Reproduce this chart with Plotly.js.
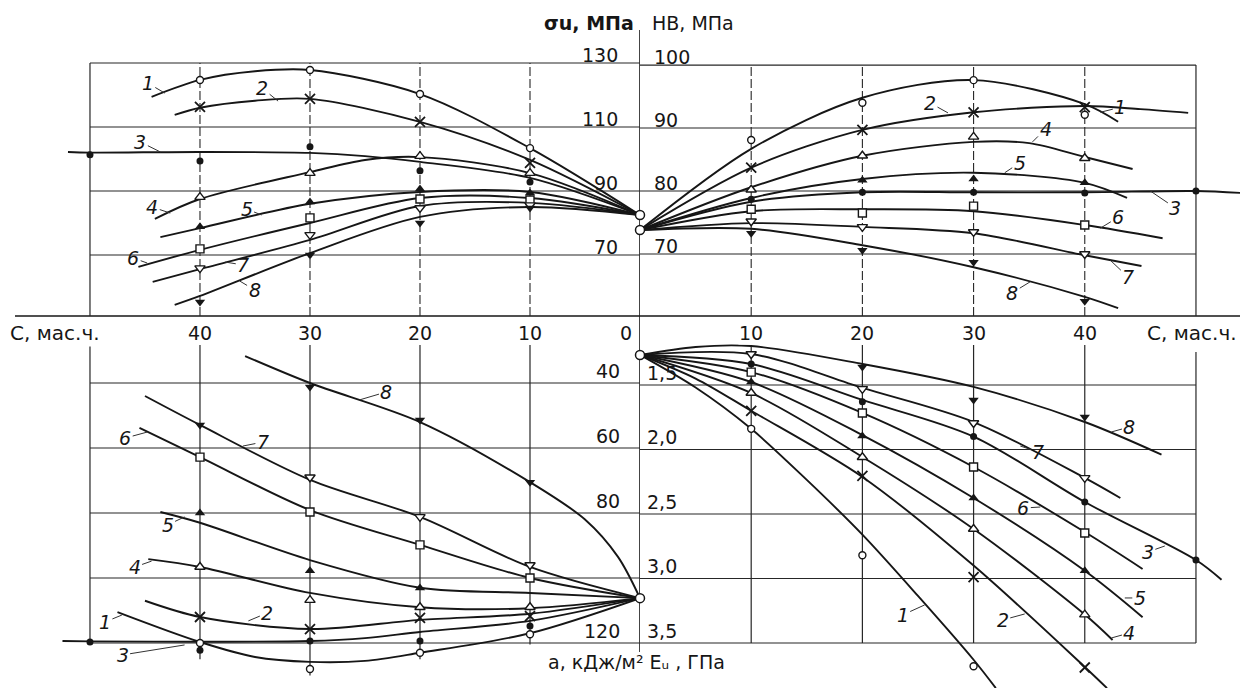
<!DOCTYPE html>
<html><head><meta charset="utf-8">
<script src="https://cdn.plot.ly/plotly-3.0.1.min.js"></script>
<style>html,body{margin:0;padding:0;background:#fff;}#chart{width:1240px;height:688px;}</style>
</head><body><div id="chart"></div>
<script>
// ---------- tick values / labels ----------
const cTicks = [10, 20, 30, 40];
const sigmaTicks = [130, 110, 90, 70];
const hbTicks = [100, 90, 80, 70];
const aGrid = [40, 60, 80, 100, 120];
const aTickLabels = [40, 60, 80, 120];
const eTicks = [1.5, 2.0, 2.5, 3.0, 3.5];
const eTickText = ['1,5', '2,0', '2,5', '3,0', '3,5'];
const curveNames = ['1', '2', '3', '4', '5', '6', '7', '8'];
const markC = [10, 20, 30, 40, 50];

// ---------- σu (top-left) : curves [C, σu] ----------
const sigmaCurve1 = [[44.4,119.4],[40,124.7],[35,127.4],[30,127.8],[20,120.3],[10,103.4],[0,82.5]];
const sigmaCurve2 = [[42.3,113.8],[40,116.0],[35,118.2],[30,118.8],[20,111.6],[10,99.7],[0,82.5]];
const sigmaCurve3 = [[52,102.2],[50,102.0],[40,102.2],[30,101.9],[25,100.9],[20,99.1],[10,94.1],[0,82.5]];
const sigmaCurve4 = [[44.1,81.3],[40,87.5],[30,95.9],[25,99.7],[20,100.6],[10,95.6],[0,82.5]];
const sigmaCurve5 = [[43.6,75.6],[40,78.4],[30,86.0],[20,89.7],[10,89.7],[0,82.5]];
const sigmaCurve6 = [[45.6,66.3],[40,71.6],[30,80.0],[20,87.8],[10,87.8],[0,82.5]];
const sigmaCurve7 = [[44.3,61.6],[40,65.6],[30,74.7],[20,85.3],[10,86.3],[0,82.5]];
const sigmaCurve8 = [[42.3,54.4],[40,57.2],[30,70.6],[20,81.9],[10,85.0],[0,82.5]];
// markers at markC
const sigmaMarks1 = [103.4, 120.3, 127.8, 124.7, null];
const sigmaMarks2 = [98.8, 111.6, 118.8, 116.3, null];
const sigmaMarks3 = [92.8, 96.3, 103.8, 99.4, 101.3];
const sigmaMarks4 = [95.6, 100.9, 95.6, 88.1, null];
const sigmaMarks5 = [89.4, 90.6, 86.6, 78.8, null];
const sigmaMarks6 = [87.2, 87.5, 81.6, 71.9, null];
const sigmaMarks7 = [85.6, 84.7, 76.3, 65.9, null];
const sigmaMarks8 = [84.7, 80.0, 70.0, 55.3, null];
const sigmaZero = 82.5;

// ---------- HB (top-right) ----------
const hbCurve1 = [[0,73.8],[10,86.7],[20,94.8],[30,97.6],[40,93.8],[43,91.0]];
const hbCurve2 = [[0,73.8],[10,83.7],[20,89.7],[30,92.5],[40,93.5],[45,93.0],[49.3,92.4]];
const hbCurve3 = [[0,73.8],[10,78.3],[20,79.8],[30,79.8],[40,79.8],[50,80.0],[54,79.7]];
const hbCurve4 = [[0,73.8],[10,80.6],[20,85.6],[30,87.8],[35,87.6],[40,85.4],[44.3,83.5]];
const hbCurve5 = [[0,73.8],[10,78.9],[20,81.9],[30,82.9],[40,81.3],[43.8,78.9]];
const hbCurve6 = [[0,73.8],[10,76.8],[20,77.1],[30,76.8],[40,74.6],[47,72.5]];
const hbCurve7 = [[0,73.8],[10,74.9],[20,74.3],[30,73.3],[40,69.8],[45.1,68.1]];
const hbCurve8 = [[0,73.8],[10,74.0],[20,71.4],[30,67.9],[40,63.2],[43,61.4]];
const hbMarks1 = [88.1, 94.0, 97.6, 92.1, null];
const hbMarks2 = [83.7, 89.7, 92.5, 93.3, null];
const hbMarks3 = [78.7, 79.8, 79.8, 79.7, 80.0];
const hbMarks4 = [80.2, 85.6, 88.6, 85.2, null];
const hbMarks5 = [null, 81.7, 81.9, 81.3, null];
const hbMarks6 = [77.1, 76.5, 77.6, 74.6, null];
const hbMarks7 = [75.2, 74.3, 73.5, 70.0, null];
const hbMarks8 = [73.3, 70.6, 68.7, 62.5, null];
const hbZero = 73.8;

// ---------- a, kJ/m2 (bottom-left) ----------
const aCurve1 = [[47.5,110.5],[40,119.7],[35,124.3],[30,125.8],[25,125.5],[20,123.0],[10,117.0],[0,106.2]];
const aCurve2 = [[45,107.0],[40,112.0],[30,115.7],[20,112.9],[10,111.0],[0,106.2]];
const aCurve3 = [[52.5,119.4],[50,119.5],[40,119.6],[30,119.4],[25,118.5],[20,116.6],[10,113.2],[0,106.2]];
const aCurve4 = [[44.7,94.2],[40,96.6],[30,104.6],[20,109.0],[10,109.3],[0,106.2]];
const aCurve5 = [[43.6,79.7],[40,83.0],[30,94.5],[20,103.0],[10,104.6],[0,106.2]];
const aCurve6 = [[45.5,53.8],[40,62.8],[30,79.1],[20,89.8],[10,100.0],[0,106.2]];
const aCurve7 = [[45,44.0],[40,52.9],[30,69.8],[20,81.2],[10,96.6],[0,106.2]];
const aCurve8 = [[35.9,31.7],[30,40.0],[20,52.0],[10,70.5],[5,82.0],[2,93.5],[0,106.2]];
const aMarks1 = [117.3, 123.0, 128.0, 120.0, null];
const aMarks2 = [111.7, 112.3, 115.7, 112.0, null];
const aMarks3 = [114.8, 119.4, 119.4, 122.2, 119.7];
const aMarks4 = [109.0, 109.0, 106.8, 96.6, null];
const aMarks5 = [null, 103.1, 97.8, 80.0, null];
const aMarks6 = [100.0, 89.8, 79.7, 62.8, null];
const aMarks7 = [96.0, 81.2, 69.0, null, null];
const aMarks8 = [70.5, 51.4, 41.2, 52.9, null];
const aZero = 106.2;

// ---------- Eu, GPa (bottom-right) ----------
const eCurve1 = [[0,1.267],[5,1.52],[10,1.84],[15,2.236],[20,2.66],[25,3.135],[30,3.63],[32,3.85]];
const eCurve2 = [[0,1.267],[5,1.45],[10,1.70],[20,2.213],[30,2.90],[40,3.686],[42,3.85]];
const eCurve3 = [[0,1.267],[10,1.337],[20,1.616],[30,1.90],[40,2.407],[50,2.857],[52.3,3.01]];
const eCurve4 = [[0,1.267],[10,1.562],[20,2.058],[30,2.616],[40,3.28],[42.5,3.477]];
const eCurve5 = [[0,1.267],[10,1.477],[20,1.888],[30,2.376],[40,2.94],[45.2,3.30]];
const eCurve6 = [[0,1.267],[10,1.40],[20,1.717],[30,2.136],[40,2.64],[45.2,2.926]];
const eCurve7 = [[0,1.267],[10,1.26],[20,1.523],[30,1.787],[40,2.22],[43.2,2.376]];
const eCurve8 = [[0,1.267],[5,1.205],[10,1.198],[20,1.337],[30,1.515],[40,1.787],[46.9,2.04]];
const eMarks1 = [1.84, 2.82, 3.68, null, null];
const eMarks2 = [1.70, 2.205, 2.99, 3.69, null];
const eMarks3 = [1.337, 1.63, 1.90, 2.407, 2.857];
const eMarks4 = [1.562, 2.06, 2.616, 3.28, null];
const eMarks5 = [1.477, 1.895, 2.376, 2.94, null];
const eMarks6 = [1.40, 1.717, 2.136, 2.647, null];
const eMarks7 = [1.26, 1.53, 1.795, 2.22, null];
const eMarks8 = [1.13, 1.36, 1.616, 1.748, null];
const eZero = 1.267;

// ---------- curve-number label anchors (layout) ----------
const sigmaLabelAt = [[43.2,120.6],[32.9,118.1],[43.6,102.2],[42.7,83.1],[34.4,82.5],[44.8,67.5],[37.7,67.8],[36.4,61.9]];
const sigmaLabelOff = [[-17,-10],[-16,-13],[-20,-10],[-18,-6],[-15,-6],[-14,-5],[18,3],[15,9]];
const hbLabelAt = [[41.4,92.5],[27.7,92.4],[45.9,80.0],[35.3,87.8],[32.8,82.9],[41.4,74.1],[42.3,69.0],[35.1,65.6]];
const hbLabelOff = [[20,-5],[-18,-10],[25,17],[13,-13],[15,-10],[18,-11],[18,17],[-18,11]];
const aLabelAt = [[47.1,111.4],[35.6,113.2],[41.4,120.6],[44.4,94.8],[41.4,81.2],[44.8,55.1],[36.1,59.4],[25.5,45.2]];
const aLabelOff = [[-17,7],[19,-8],[-62,10],[-17,6],[-17,8],[-22,6],[20,-4],[27,-8]];
const eLabelAt = [[25.6,3.205],[34.6,3.275],[47.2,2.748],[42.4,3.461],[43.6,3.151],[36.0,2.446],[34.2,1.973],[42.4,1.864]];
const eLabelOff = [[-22,10],[-22,6],[-17,6],[18,-5],[15,0],[-17,1],[18,6],[18,-5]];

// ---------- styles ----------
const INK = '#161616';
const symbolStyle = [
  {symbol:'circle', open:true, size:7},
  {symbol:'x-thin', open:false, size:10, xline:true},
  {symbol:'circle', open:false, size:7},
  {symbol:'triangle-up', open:true, size:9},
  {symbol:'triangle-up', open:false, size:9},
  {symbol:'square', open:true, size:8},
  {symbol:'triangle-down', open:true, size:9},
  {symbol:'triangle-down', open:false, size:9}
];

const quadrants = [
  {xa:'x',  ya:'y',  curves:[sigmaCurve1,sigmaCurve2,sigmaCurve3,sigmaCurve4,sigmaCurve5,sigmaCurve6,sigmaCurve7,sigmaCurve8],
   marks:[sigmaMarks1,sigmaMarks2,sigmaMarks3,sigmaMarks4,sigmaMarks5,sigmaMarks6,sigmaMarks7,sigmaMarks8], zero:sigmaZero,
   labAt:sigmaLabelAt, labOff:sigmaLabelOff},
  {xa:'x2', ya:'y2', curves:[hbCurve1,hbCurve2,hbCurve3,hbCurve4,hbCurve5,hbCurve6,hbCurve7,hbCurve8],
   marks:[hbMarks1,hbMarks2,hbMarks3,hbMarks4,hbMarks5,hbMarks6,hbMarks7,hbMarks8], zero:hbZero,
   labAt:hbLabelAt, labOff:hbLabelOff},
  {xa:'x3', ya:'y3', curves:[aCurve1,aCurve2,aCurve3,aCurve4,aCurve5,aCurve6,aCurve7,aCurve8],
   marks:[aMarks1,aMarks2,aMarks3,aMarks4,aMarks5,aMarks6,aMarks7,aMarks8], zero:aZero,
   labAt:aLabelAt, labOff:aLabelOff},
  {xa:'x4', ya:'y4', curves:[eCurve1,eCurve2,eCurve3,eCurve4,eCurve5,eCurve6,eCurve7,eCurve8],
   marks:[eMarks1,eMarks2,eMarks3,eMarks4,eMarks5,eMarks6,eMarks7,eMarks8], zero:eZero,
   labAt:eLabelAt, labOff:eLabelOff}
];

const traces = [];
const annotations = [];
const FONT = 'DejaVu Sans, Liberation Sans, Arial, sans-serif';

quadrants.forEach(q => {
  q.curves.forEach((cv, i) => {
    traces.push({
      x: cv.map(p => p[0]), y: cv.map(p => p[1]), xaxis: q.xa, yaxis: q.ya,
      mode: 'lines', hoverinfo: 'skip', showlegend: false,
      line: {color: INK, width: 1.9, shape: 'spline', smoothing: 0.9}
    });
  });
  q.marks.forEach((mk, i) => {
    const s = symbolStyle[i];
    let marker;
    if (s.xline) marker = {symbol: s.symbol, size: s.size, color: INK, line: {color: INK, width: 1.8}};
    else if (s.open) marker = {symbol: s.symbol, size: s.size, color: '#ffffff', line: {color: INK, width: 1.4}};
    else marker = {symbol: s.symbol, size: s.size, color: INK, line: {width: 0}};
    traces.push({
      x: markC, y: mk, xaxis: q.xa, yaxis: q.ya, mode: 'markers', cliponaxis: false,
      hoverinfo: 'skip', showlegend: false, marker: marker
    });
  });
  traces.push({
    x: [0], y: [q.zero], xaxis: q.xa, yaxis: q.ya, mode: 'markers', cliponaxis: false,
    hoverinfo: 'skip', showlegend: false,
    marker: {symbol: 'circle', size: 9, color: '#ffffff', line: {color: INK, width: 1.5}}
  });
  q.labAt.forEach((p, i) => {
    annotations.push({
      xref: q.xa, yref: q.ya, x: p[0], y: p[1], text: curveNames[i],
      showarrow: true, arrowhead: 0, arrowwidth: 1, arrowcolor: '#333', standoff: 0,
      ax: q.labOff[i][0], ay: q.labOff[i][1],
      font: {family: FONT, size: 19, color: INK, style: 'italic'}
    });
  });
});

// ---------- axes geometry ----------
const W = 1240, H = 688;
const leftDom = [55 / W, 640 / W];
const rightDom = [640 / W, 1];
const topDom = [1 - 316 / H, 1 - 30 / H];
const botDom = [0, 1 - 325 / H];
const cLeftRange = [53.18, 0];
const cRightRange = [0, 53.96];
const sigRange = [50.94, 140.31];
const hbRange = [60.16, 105.56];
const aRange = [133.85, 22.15];
const eRange = [3.849, 1.035];

const hidden = {visible: false, fixedrange: true, showgrid: false, zeroline: false};

// ---------- shapes (frames, grids) ----------
const shapes = [];
const gridLine = {color: '#262626', width: 1.2};
const dashLine = {color: '#262626', width: 1.1, dash: '9px,3px'};
function seg(xref, yref, x0, y0, x1, y1, line) {
  shapes.push({type: 'line', xref, yref, x0, y0, x1, y1, line: line || gridLine, layer: 'below'});
}
sigmaTicks.forEach(s => seg('x', 'y', 50, s, 0, s));
seg('x', 'y', 50, sigRange[0], 50, sigmaTicks[0]);
cTicks.forEach(c => seg('x', 'y', c, sigRange[0], c, sigmaTicks[0], dashLine));
hbTicks.forEach(h => seg('x2', 'y2', 0, h, 50, h));
seg('x2', 'y2', 50, hbRange[0], 50, hbTicks[0]);
cTicks.forEach(c => seg('x2', 'y2', c, hbRange[0], c, hbTicks[0], dashLine));
aGrid.forEach(a => seg('x3', 'y3', 50, a, 0, a));
seg('x3', 'y3', 50, 28.3, 50, 120);
const blBottoms = [120.5, 125, 130, 125];
cTicks.forEach((c, i) => seg('x3', 'y3', c, 28.3, c, blBottoms[i]));
eTicks.forEach(e => seg('x4', 'y4', 0, e, 50, e));
seg('x4', 'y4', 50, 1.244, 50, 3.5);
cTicks.forEach(c => seg('x4', 'y4', c, 1.19, c, 3.5));
// horizontal C axis and central vertical axis
shapes.push({type: 'line', xref: 'paper', yref: 'paper', x0: 15 / W, x1: 1, y0: 1 - 316 / H, y1: 1 - 316 / H,
  line: {color: INK, width: 1.6}, layer: 'below'});
shapes.push({type: 'line', xref: 'x', yref: 'paper', x0: 0, x1: 0, y0: 1 - 652 / H, y1: 1 - 30 / H,
  line: {color: INK, width: 1.6}, layer: 'below'});

// ---------- tick label annotations ----------
const tickFont = {family: FONT, size: 19, color: INK};
const cLabelY = 1 - 333 / H;
cTicks.forEach(c => {
  annotations.push({xref: 'x3', yref: 'paper', x: c, y: cLabelY, text: String(c), showarrow: false,
    xanchor: 'center', yanchor: 'middle', font: tickFont, bgcolor: '#ffffff', borderpad: 0});
  annotations.push({xref: 'x4', yref: 'paper', x: c, y: cLabelY, text: String(c), showarrow: false,
    xanchor: 'center', yanchor: 'middle', font: tickFont, bgcolor: '#ffffff', borderpad: 0});
});
annotations.push({xref: 'x3', yref: 'paper', x: 0, y: cLabelY, text: '0', showarrow: false,
  xanchor: 'right', xshift: -6, yanchor: 'middle', font: tickFont});
annotations.push({xref: 'paper', yref: 'paper', x: 8 / W, y: cLabelY, text: 'С, мас.ч.', showarrow: false,
  xanchor: 'left', yanchor: 'middle', font: {family: FONT, size: 20, color: INK}, bgcolor: '#ffffff'});
annotations.push({xref: 'paper', yref: 'paper', x: 1239 / W, y: cLabelY, text: 'С, мас.ч.', showarrow: false,
  xanchor: 'right', yanchor: 'middle', font: {family: FONT, size: 20, color: INK}, bgcolor: '#ffffff'});

sigmaTicks.forEach(s => annotations.push({xref: 'x', yref: 'y', x: 0, y: s, text: String(s), showarrow: false,
  xanchor: 'right', yanchor: 'middle', xshift: -20, yshift: 8, font: tickFont}));
hbTicks.forEach(h => annotations.push({xref: 'x2', yref: 'y2', x: 0, y: h, text: String(h), showarrow: false,
  xanchor: 'left', yanchor: 'middle', xshift: 12, yshift: 8, font: tickFont}));
aTickLabels.forEach(a => annotations.push({xref: 'x3', yref: 'y3', x: 0, y: a, text: String(a), showarrow: false,
  xanchor: 'right', yanchor: 'middle', xshift: -18, yshift: 12, font: tickFont}));
eTicks.forEach((e, i) => annotations.push({xref: 'x4', yref: 'y4', x: 0, y: e, text: eTickText[i], showarrow: false,
  xanchor: 'left', yanchor: 'middle', xshift: 5, yshift: 12, font: tickFont}));

// axis titles
annotations.push({xref: 'paper', yref: 'paper', x: 636 / W, y: 1 - 23 / H, text: 'σu, МПа', showarrow: false,
  xanchor: 'right', yanchor: 'middle', font: {family: FONT, size: 19, color: INK, weight: 'bold'}});
annotations.push({xref: 'paper', yref: 'paper', x: 650 / W, y: 1 - 23 / H, text: 'НВ, МПа', showarrow: false,
  xanchor: 'left', yanchor: 'middle', font: {family: FONT, size: 19, color: INK}});
annotations.push({xref: 'paper', yref: 'paper', x: 636 / W, y: 1 - 662 / H, text: 'а, кДж/м² Eᵤ , ГПа',
  showarrow: false, xanchor: 'center', yanchor: 'middle', font: {family: FONT, size: 19, color: INK}});

const layout = {
  width: W, height: H, margin: {l: 0, r: 0, t: 0, b: 0},
  paper_bgcolor: '#ffffff', plot_bgcolor: 'rgba(0,0,0,0)', showlegend: false,
  xaxis:  Object.assign({}, hidden, {domain: leftDom,  range: cLeftRange,  anchor: 'y'}),
  yaxis:  Object.assign({}, hidden, {domain: topDom,   range: sigRange,    anchor: 'x'}),
  xaxis2: Object.assign({}, hidden, {domain: rightDom, range: cRightRange, anchor: 'y2'}),
  yaxis2: Object.assign({}, hidden, {domain: topDom,   range: hbRange,     anchor: 'x2'}),
  xaxis3: Object.assign({}, hidden, {domain: leftDom,  range: cLeftRange,  anchor: 'y3'}),
  yaxis3: Object.assign({}, hidden, {domain: botDom,   range: aRange,      anchor: 'x3'}),
  xaxis4: Object.assign({}, hidden, {domain: rightDom, range: cRightRange, anchor: 'y4'}),
  yaxis4: Object.assign({}, hidden, {domain: botDom,   range: eRange,      anchor: 'x4'}),
  shapes: shapes, annotations: annotations
};

Plotly.newPlot('chart', traces, layout, {staticPlot: true, displayModeBar: false});
</script>
</body></html>
